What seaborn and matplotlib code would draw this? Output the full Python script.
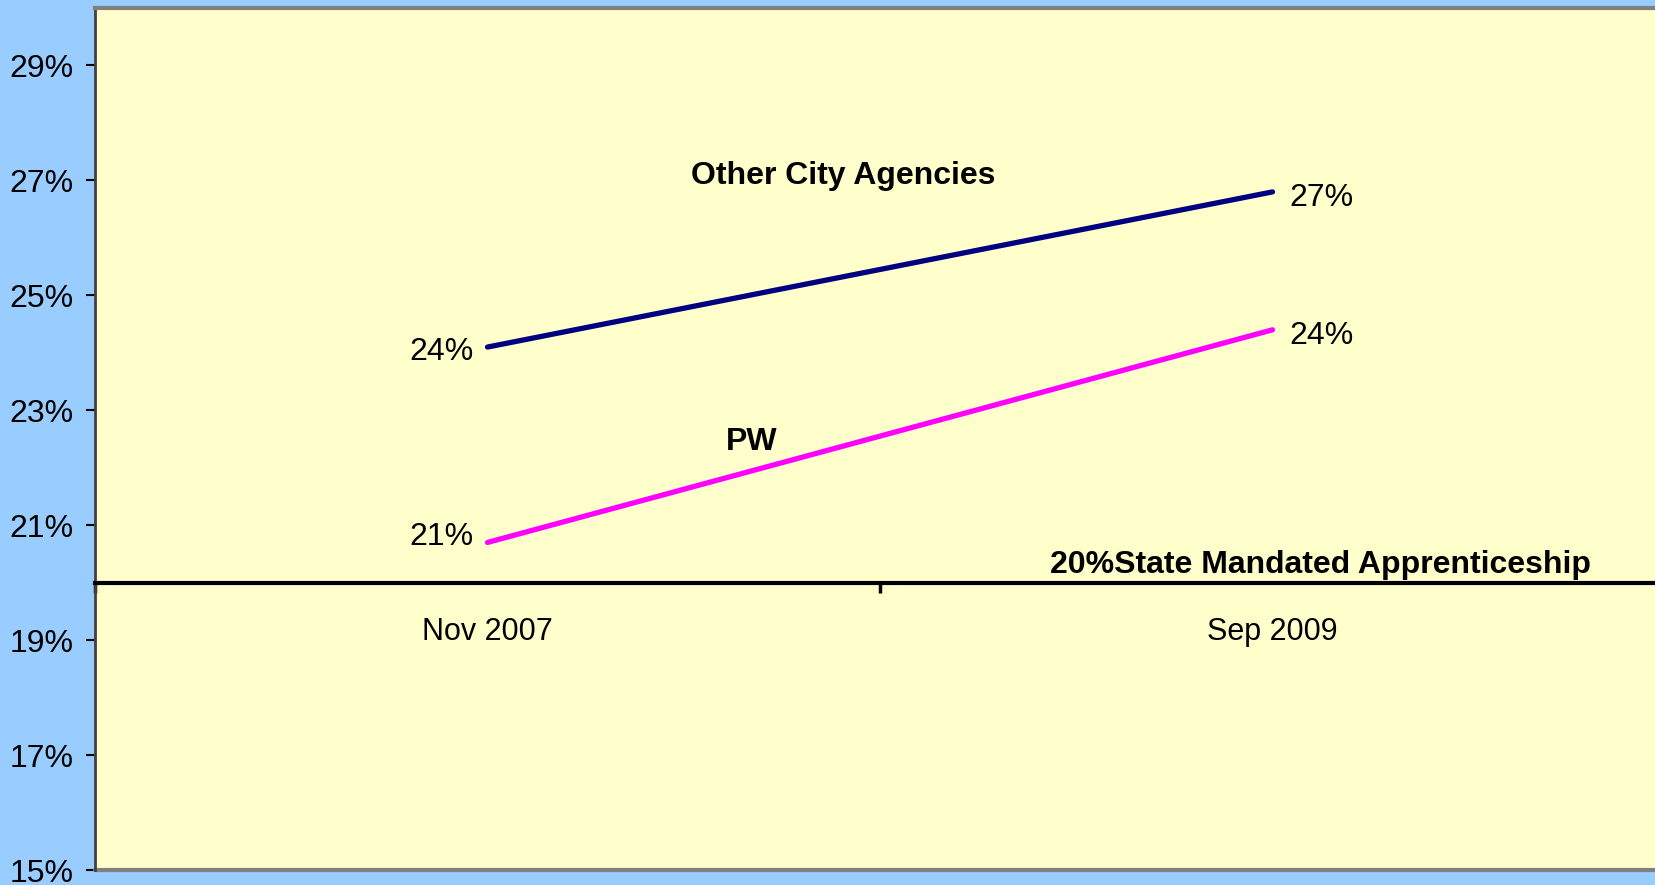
"""
Apprenticeship share: PW vs other city agencies
Line chart against the 20% state mandate
"""

import matplotlib
matplotlib.use("Agg")

import pandas as pd
import matplotlib.pyplot as plt
import seaborn as sns
from matplotlib.ticker import PercentFormatter, FixedLocator

sns.set_style("white")
plt.rcParams['font.family'] = ['Liberation Sans', 'DejaVu Sans']
plt.rcParams['text.color'] = 'black'

# data
months = ["Nov 2007", "Sep 2009"]
other_city = [0.241, 0.268]
pw = [0.207, 0.244]
mandate = 0.20
y_ticks = [0.15, 0.17, 0.19, 0.21, 0.23, 0.25, 0.27, 0.29]

df = pd.DataFrame({
    "month": months * 2,
    "share": other_city + pw,
    "group": ["Other City Agencies"] * len(months) + ["PW"] * len(months),
})
palette = {"Other City Agencies": "#000080", "PW": "#FF00FF"}

fig = plt.figure(figsize=(16.56, 8.85), dpi=100)
fig.patch.set_facecolor("#99CCFF")
# axes runs a little past the right edge, as in the original
ax = fig.add_axes([95 / 1656, 15 / 885, 1570 / 1656, 862 / 885])
ax.set_facecolor("#FFFFCC")

sns.lineplot(data=df, x="month", y="share", hue="group", palette=palette,
             linewidth=3.8, legend=False, sort=False, ax=ax)

ax.set_xlim(-0.5, 1.5)
ax.set_ylim(0.15, 0.30)
ax.set_xlabel("")
ax.set_ylabel("")

# y axis
ax.yaxis.set_major_locator(FixedLocator(y_ticks))
ax.yaxis.set_major_formatter(PercentFormatter(1.0, decimals=0))
ax.tick_params(axis="y", direction="out", length=6.5, width=1.5, pad=9,
               labelsize=23, colors="black", left=True)

# x axis sits on the 20% mandate line
ax.spines["bottom"].set_position(("data", mandate))
ax.spines["bottom"].set_color("black")
ax.spines["bottom"].set_linewidth(3)
ax.set_xticks(range(len(months)))
ax.set_xticklabels(months)
ax.set_xticks([-0.5, 0.5, 1.5], minor=True)
ax.tick_params(axis="x", which="major", length=0, pad=25, labelsize=22,
               labelcolor="black", bottom=True)
ax.tick_params(axis="x", which="minor", direction="out", length=7, width=2.5,
               color="black", bottom=True)

ax.spines["left"].set_color("#404040")
ax.spines["left"].set_linewidth(2)
ax.spines["top"].set_color("#808080")
ax.spines["top"].set_linewidth(3)
ax.spines["right"].set_visible(False)
ax.axhline(0.15, color="#808080", lw=3, clip_on=False)

# point labels (left of first point, right of last point)
label_dy = {"other": (-3.5, -4.5), "pw": (4, -4.5)}
for key, series in (("other", other_city), ("pw", pw)):
    dy_first, dy_last = label_dy[key]
    ax.annotate(f"{series[0]:.0%}", (0, series[0]), xytext=(-10, dy_first),
                textcoords="offset points", ha="right", va="center",
                fontsize=23, color="black")
    ax.annotate(f"{series[-1]:.0%}", (1, series[-1]), xytext=(12, dy_last),
                textcoords="offset points", ha="left", va="center",
                fontsize=23, color="black")

# series names and mandate label
ax.text(0.453, 0.2708, "Other City Agencies", ha="center", va="center",
        fontsize=23, fontweight="bold", color="black")
ax.text(0.336, 0.2245, "PW", ha="center", va="center", fontsize=23,
        fontweight="bold", color="black")
ax.text(1.061, 0.2031, "20%State Mandated Apprenticeship", ha="center", va="center",
        fontsize=23, fontweight="bold", color="black")

plt.savefig("out.png", dpi=100, facecolor=fig.get_facecolor())
